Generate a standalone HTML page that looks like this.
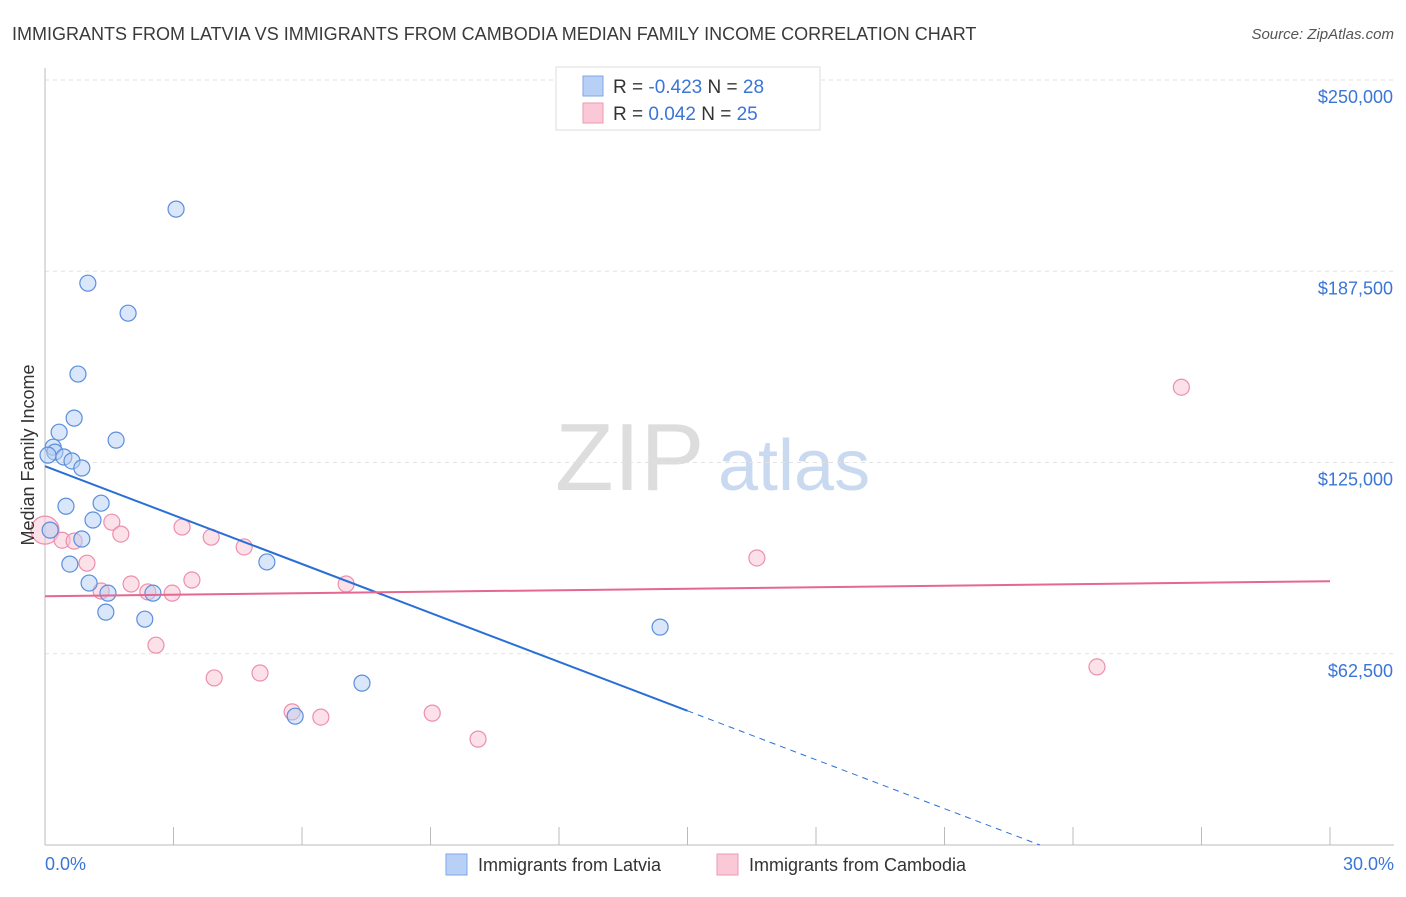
<!DOCTYPE html>
<html><head><meta charset="utf-8"><style>
body{margin:0;background:#fff;font-family:"Liberation Sans",sans-serif;}
svg text{font-family:"Liberation Sans",sans-serif;}
</style></head><body>
<svg id="c" width="1406" height="892">
<text x="12" y="40" font-size="18" fill="#3a3a3a">IMMIGRANTS FROM LATVIA VS IMMIGRANTS FROM CAMBODIA MEDIAN FAMILY INCOME CORRELATION CHART</text>
<text x="1394" y="39" font-size="15" fill="#555" text-anchor="end" font-style="italic">Source: ZipAtlas.com</text>
<text x="555" y="490" font-size="96" fill="#ddd" font-family="Liberation Serif">ZIP</text>
<text x="718" y="490" font-size="72" fill="#c9daf0">atlas</text>
<g id="grid"></g><g id="axes"></g><g id="marks"></g>
<text transform="translate(34,455) rotate(-90)" font-size="18" fill="#333" text-anchor="middle">Median Family Income</text>
<text x="45" y="870" font-size="18" fill="#3a75d8">0.0%</text>
<text x="1394" y="870" font-size="18" fill="#3a75d8" text-anchor="end">30.0%</text>
<g>
<rect x="556" y="67" width="264" height="63" fill="#fff" stroke="#ddd"/>
<rect x="583" y="76" width="20" height="20" fill="#b8d0f5" stroke="#7fa6e6"/>
<rect x="583" y="103" width="20" height="20" fill="#fbc8d8" stroke="#ee9ab5"/>
<text x="613" y="93" font-size="19" fill="#333">R = <tspan fill="#3a75d8">-0.423</tspan>   N = <tspan fill="#3a75d8">28</tspan></text>
<text x="613" y="120" font-size="19" fill="#333">R =  <tspan fill="#3a75d8">  0.042</tspan>   N = <tspan fill="#3a75d8">25</tspan></text>
</g>
<g>
<rect x="446" y="854" width="21" height="21" fill="#b8d0f5" stroke="#7fa6e6"/>
<text x="478" y="871" font-size="18" fill="#333">Immigrants from Latvia</text>
<rect x="717" y="854" width="21" height="21" fill="#fbc8d8" stroke="#ee9ab5"/>
<text x="749" y="871" font-size="18" fill="#333">Immigrants from Cambodia</text>
</g>
</svg>
<script>
const yTicks=[62500,125000,187500,250000];
const yTickLabels=["$62,500","$125,000","$187,500","$250,000"];
const latviaX=[3.06,1.00,1.94,0.77,0.68,0.33,1.66,0.19,0.23,0.44,0.63,0.86,0.49,1.31,1.12,0.86,0.58,1.03,1.47,2.52,1.42,2.33,5.18,14.36,7.40,5.84,0.07,0.12];
const latviaY=[207800,183600,173800,153900,139500,134900,132300,130000,128400,126800,125500,123200,110700,111700,106200,100000,91800,85600,82300,82300,76100,73800,92500,71200,52900,42100,127400,102900];
const cambodiaX=[0,0.40,0.68,0.98,1.56,1.77,1.31,2.01,2.40,2.59,2.97,3.20,3.43,3.88,3.95,4.65,5.02,5.77,6.44,7.03,9.04,10.11,16.62,24.56,26.53];
const cambodiaY=[102900,99600,99300,92100,105500,101600,83000,85300,82700,65300,82300,103900,86600,100600,54600,97400,56200,43500,41800,85300,43100,34600,93800,58200,149600];
const latviaTrend=[123800,-36100];
const cambodiaTrend=[81300,86200];
const NS="http://www.w3.org/2000/svg";
const X0=45,X1=1330,Y0=845,Y1=80;
const sx=v=>X0+(v/30)*(X1-X0);
const sy=v=>Y0-(v/250000)*(Y0-Y1);
function mk(t,a,p){const e=document.createElementNS(NS,t);for(const k in a)e.setAttribute(k,a[k]);p.appendChild(e);return e;}
const grid=document.getElementById('grid'),axes=document.getElementById('axes'),marks=document.getElementById('marks');
yTicks.forEach((t,i)=>{
 const l=mk('line',{x1:X0,x2:1394,y1:sy(t),y2:sy(t),stroke:'#e2e2e2','stroke-dasharray':'4,4'},grid);
 
 
 const tx=mk('text',{x:1393,y:sy(t)+23,'font-size':18,fill:'#3a75d8','text-anchor':'end'},axes);
 tx.textContent=yTickLabels[i];
 
 
});
const ax=mk('line',{x1:X0,x2:X0,y1:68,y2:Y0,stroke:'#bbb'},axes);


const bx=mk('line',{x1:X0,x2:1394,y1:Y0,y2:Y0,stroke:'#bbb'},axes);


for(let i=0;i<=10;i++){const t=mk('line',{x1:sx(i*3),x2:sx(i*3),y1:Y0,y2:Y0-18,stroke:'#bbb'},axes);
 
 }
function pts(xs,ys,fill,stroke,name){xs.forEach((x,i)=>{
 const r=(name==='cambodia-point'&&i===0)?14:8;
 const c=mk('circle',{cx:sx(x),cy:sy(ys[i]),r:r,fill:fill,'fill-opacity':0.5,stroke:stroke,'stroke-width':1.2},marks);
 
 });}
pts(cambodiaX,cambodiaY,'#f9c3d4','#ec8fae','cambodia-point');
pts(latviaX,latviaY,'#b5cdf3','#5b8fdc','latvia-point');
const ly=x=>latviaTrend[0]+(latviaTrend[1]-latviaTrend[0])*x/30;
const l1=mk('line',{x1:sx(0),y1:sy(ly(0)),x2:sx(15),y2:sy(ly(15)),stroke:'#2a6fd6','stroke-width':2},marks);


const xz=30*latviaTrend[0]/(latviaTrend[0]-latviaTrend[1]);
const l2=mk('line',{x1:sx(15),y1:sy(ly(15)),x2:sx(xz),y2:sy(0),stroke:'#2a6fd6','stroke-width':1,'stroke-dasharray':'6,5'},marks);


const l3=mk('line',{x1:sx(0),y1:sy(cambodiaTrend[0]),x2:sx(30),y2:sy(cambodiaTrend[1]),stroke:'#e4688f','stroke-width':2},marks);


</script>
</body></html>
